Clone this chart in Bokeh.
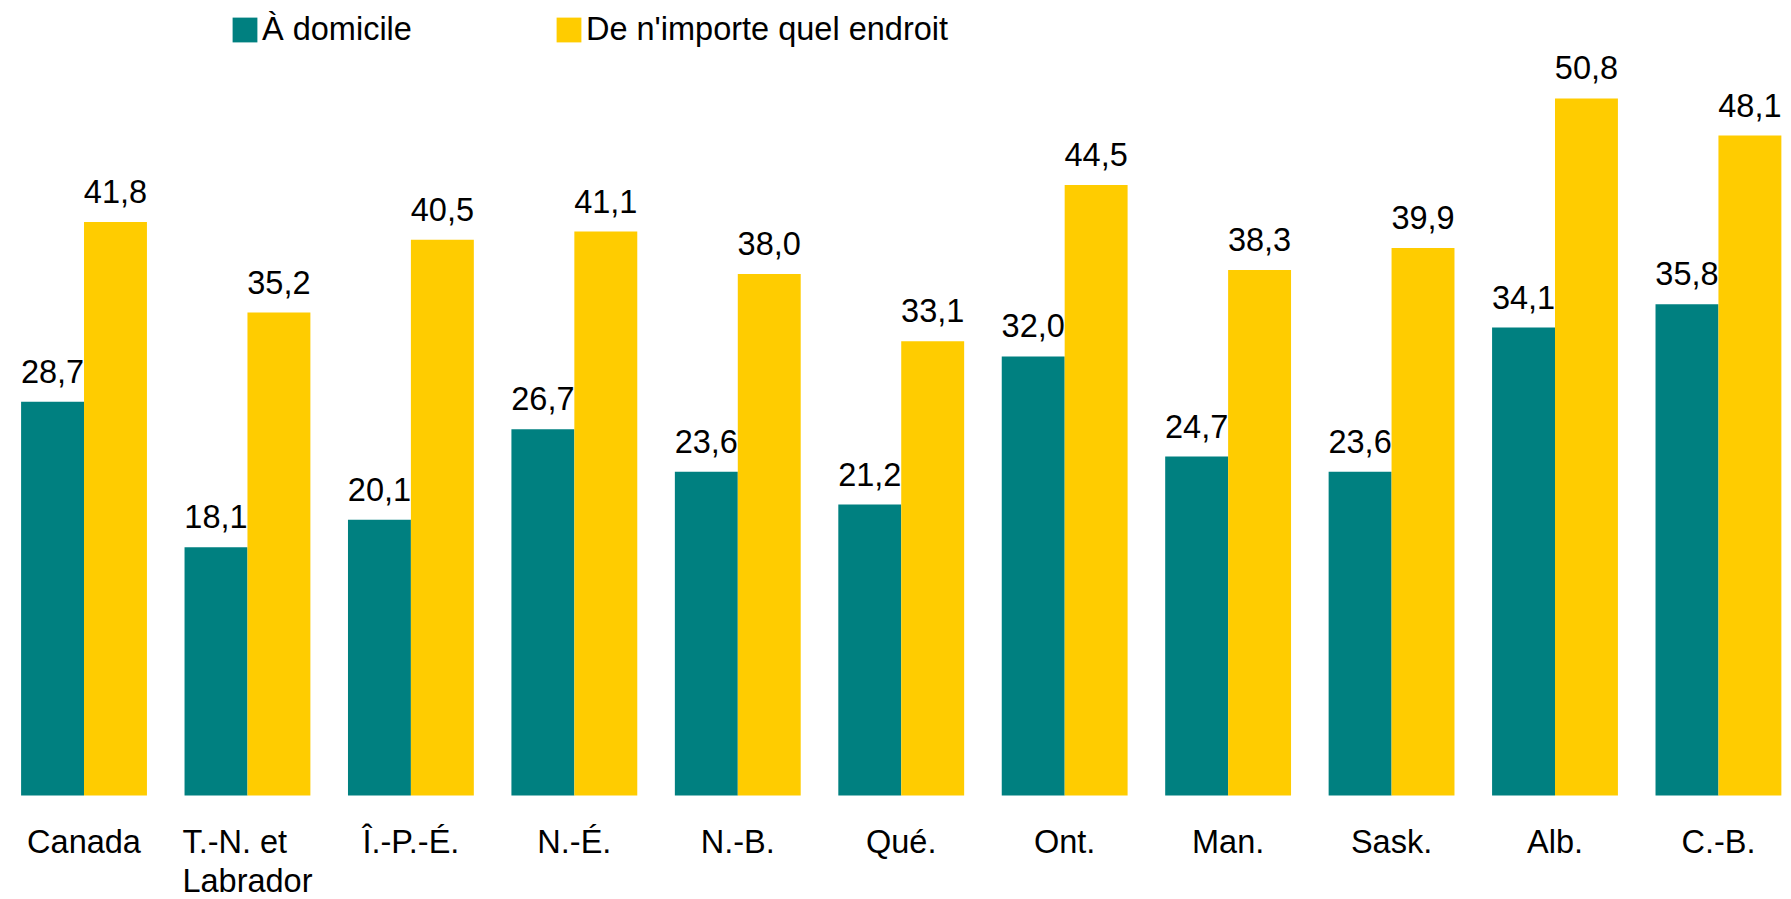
from bokeh.plotting import figure
from bokeh.models import ColumnDataSource, Range1d, LabelSet
from bokeh.core.properties import value
from bokeh.transform import dodge
from bokeh.embed import file_html
from bokeh.resources import INLINE

categories = ["Canada", "T.-N. et\nLabrador", "Î.-P.-É.", "N.-É.", "N.-B.", "Qué.",
              "Ont.", "Man.", "Sask.", "Alb.", "C.-B."]
a_domicile = [28.7, 18.1, 20.1, 26.7, 23.6, 21.2, 32.0, 24.7, 23.6, 34.1, 35.8]
nimporte_ou = [41.8, 35.2, 40.5, 41.1, 38.0, 33.1, 44.5, 38.3, 39.9, 50.8, 48.1]
series_names = ["À domicile", "De n'importe quel endroit"]

TEAL = "#008080"
GOLD = "#FFCC00"
FONT = "Liberation Sans"
FS = "32.5px"
BW = 0.385

def fmt(v):
    return f"{v:.1f}".replace(".", ",")

src = ColumnDataSource(dict(
    x=list(range(len(categories))),
    cat=categories,
    home=a_domicile,
    anyw=nimporte_ou,
    home_lbl=[fmt(v) for v in a_domicile],
    anyw_lbl=[fmt(v) for v in nimporte_ou],
    zero=[0] * len(categories),
))

p = figure(width=1791, height=899, output_backend="svg", toolbar_location=None,
           x_range=Range1d(-0.511, 10.447), y_range=Range1d(-7.58, 57.94),
           min_border=0, outline_line_color=None)
p.xaxis.visible = False
p.yaxis.visible = False
p.xgrid.visible = False
p.ygrid.visible = False

p.vbar(x=dodge("x", -BW / 2, range=p.x_range), top="home", width=BW, source=src,
       color=TEAL, line_color=None, legend_label=series_names[0])
p.vbar(x=dodge("x", BW / 2, range=p.x_range), top="anyw", width=BW, source=src,
       color=GOLD, line_color=None, legend_label=series_names[1])

for off, col, lab in [(-BW / 2, "home", "home_lbl"), (BW / 2, "anyw", "anyw_lbl")]:
    p.add_layout(LabelSet(x=dodge("x", off, range=p.x_range), y=col, text=lab, source=src,
                          text_align="center", text_baseline="alphabetic", y_offset=19,
                          text_font=value(FONT), text_font_size=FS, text_color="black"))

p.add_layout(LabelSet(x="x", y="zero", text="cat", source=src, text_align="center",
                      text_baseline="top", y_offset=-29, text_font=value(FONT),
                      text_font_size=FS, text_color="black", text_line_height=1.08))

lg = p.legend[0]
lg.orientation = "horizontal"
lg.location = (229, 851)
lg.glyph_width = 31
lg.glyph_height = 31
lg.label_standoff = 2
lg.spacing = 141
lg.padding = 0
lg.margin = 0
lg.border_line_alpha = 0
lg.background_fill_alpha = 0
lg.label_text_font = FONT
lg.label_text_font_size = FS
lg.label_text_color = "black"

open("out.html", "w").write(file_html(p, INLINE))
